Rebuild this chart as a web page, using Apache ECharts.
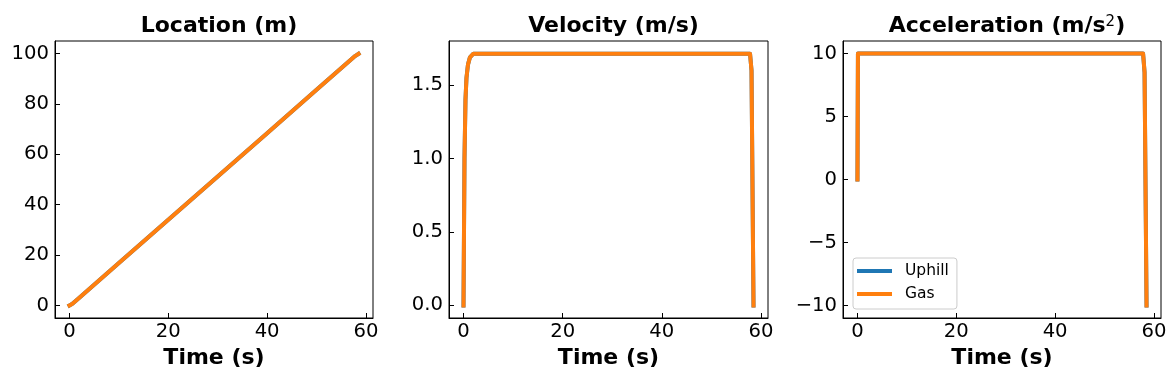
<!DOCTYPE html>
<html>
<head>
<meta charset="utf-8">
<script src="https://cdn.jsdelivr.net/npm/echarts@6/dist/echarts.min.js"></script>
<style>
  html, body { margin: 0; padding: 0; background: #ffffff; }
  #chart { width: 1176px; height: 378px; }
</style>
</head>
<body>
<div id="chart"></div>
<script>
// ---- data ----
const time         = [0, 0.1, 0.2, 0.4, 0.6, 0.9, 1.3, 2.0, 10, 20, 30, 40, 50, 57.8, 58.1, 58.5];
const positionM    = [0, 0.03, 0.1, 0.35, 0.65, 1.15, 1.82, 3.0, 16.8, 34.0, 51.2, 68.4, 85.6, 99.0, 99.5, 99.9];
const velocity     = [0, 0.5, 1.0, 1.4, 1.55, 1.64, 1.69, 1.715, 1.715, 1.715, 1.715, 1.715, 1.715, 1.715, 1.6, 0];
const acceleration = [0, 10, 10, 10, 10, 10, 10, 10, 10, 10, 10, 10, 10, 10, 8.5, -10];
const seriesNames  = ['Uphill', 'Gas'];
const seriesColors = ['#1f77b4', '#ff7f0e'];
const xTicks    = [0, 20, 40, 60];
const locTicks  = [0, 20, 40, 60, 80, 100];
const velTicks  = [0, 0.5, 1.0, 1.5];
const accTicks  = [-10, -5, 0, 5, 10];
const titles    = ['Location (m)', 'Velocity (m/s)', 'Acceleration (m/s{sup|2})'];

const FONT = 'DejaVu Sans';
const pairs = (ys) => time.map((t, i) => [t, ys[i]]);
const minus = (s) => String(s).replace('-', '\u2212');

const grids = [
  { left: 55,  top: 41, width: 318, height: 277 },
  { left: 449, top: 41, width: 319, height: 277 },
  { left: 843, top: 41, width: 318, height: 277 }
];

function xAxisFor(idx) {
  return {
    type: 'value', gridIndex: idx, min: -2.925, max: 61.425,
    name: 'Time (s)', nameLocation: 'middle', nameGap: 26,
    nameTextStyle: { fontFamily: FONT, fontSize: 22, fontWeight: 'bold', color: '#000' },
    axisLine: { show: true, onZero: false, lineStyle: { color: '#000', width: 1 } },
    axisTick: { show: true, inside: true, length: 5, customValues: xTicks, lineStyle: { color: '#000', width: 1 } },
    axisLabel: { customValues: xTicks, margin: 4, fontFamily: FONT, fontSize: 19.6, color: '#000', formatter: (v) => minus(v) },
    splitLine: { show: false }
  };
}
function yAxisFor(idx, min, max, ticks, fmt) {
  return {
    type: 'value', gridIndex: idx, min: min, max: max,
    axisLine: { show: true, onZero: false, lineStyle: { color: '#000', width: 1 } },
    axisTick: { show: true, inside: true, length: 5, customValues: ticks, lineStyle: { color: '#000', width: 1 } },
    axisLabel: { customValues: ticks, margin: 6, fontFamily: FONT, fontSize: 19.6, color: '#000', formatter: fmt },
    splitLine: { show: false }
  };
}

const yData = [positionM, velocity, acceleration];
const series = [];
for (let g = 0; g < 3; g++) {
  for (let s = 0; s < seriesNames.length; s++) {
    series.push({
      type: 'line', name: seriesNames[s], xAxisIndex: g, yAxisIndex: g,
      data: pairs(yData[g]), symbol: 'none', smooth: false,
      lineStyle: { color: seriesColors[s], width: 4, cap: 'square', join: 'round' },
      itemStyle: { color: seriesColors[s] },
      z: 2 + s
    });
  }
}

const option = {
  animation: false,
  backgroundColor: '#ffffff',
  grid: grids.map(g => Object.assign({ show: true, borderColor: '#000', borderWidth: 1, backgroundColor: 'transparent' }, g)),
  title: titles.map((t, i) => ({
    text: t,
    left: grids[i].left + grids[i].width / 2,
    top: 10,
    textAlign: 'center',
    textStyle: {
      fontFamily: FONT, fontSize: 22, fontWeight: 'bold', color: '#000',
      rich: { sup: { fontFamily: FONT, fontSize: 15, fontWeight: 'normal', color: '#000', verticalAlign: 'top' } }
    }
  })),
  legend: {
    data: seriesNames,
    orient: 'vertical',
    left: 853, top: 258,
    icon: 'rect',
    itemWidth: 35, itemHeight: 4, itemGap: 5,
    padding: [4, 8, 6, 4],
    backgroundColor: 'rgba(255,255,255,0.8)',
    borderColor: '#cccccc', borderWidth: 1, borderRadius: 3,
    textStyle: { fontFamily: FONT, fontSize: 15.5, color: '#000', lineHeight: 18, padding: [0, 0, 0, 8] }
  },
  xAxis: [xAxisFor(0), xAxisFor(1), xAxisFor(2)],
  yAxis: [
    yAxisFor(0, -5, 105, locTicks, (v) => minus(v)),
    yAxisFor(1, -0.0858, 1.801, velTicks, (v) => v.toFixed(1)),
    yAxisFor(2, -11, 11, accTicks, (v) => minus(v))
  ],
  series: series
};

const chart = echarts.init(document.getElementById('chart'), null, { renderer: 'canvas' });
chart.setOption(option);
</script>
</body>
</html>
